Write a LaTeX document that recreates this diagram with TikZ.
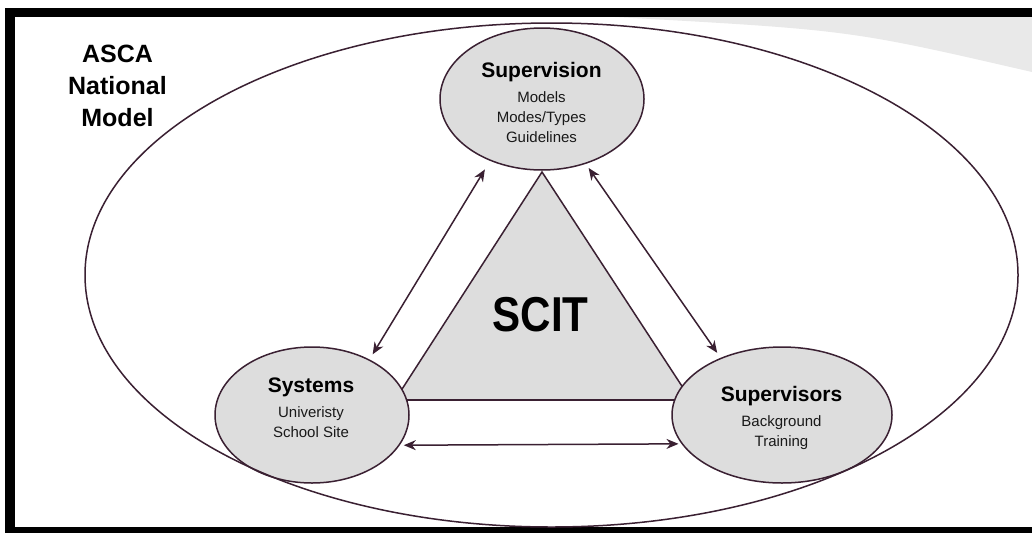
\documentclass[tikz,border=0pt]{standalone}
\usepackage{fontspec}
\setmainfont{Liberation Sans}
\newfontfamily\scitfont[FakeStretch=0.86]{Liberation Sans}
\usetikzlibrary{arrows.meta, shapes.geometric}
\definecolor{linec}{RGB}{58,32,50}
\definecolor{fillc}{RGB}{221,221,221}
\definecolor{shadec}{RGB}{233,233,233}
\begin{document}
\begin{tikzpicture}[x=1pt, y=-1pt,
        ellip/.style={ellipse, draw=linec, fill=fillc, line width=1.5pt, inner sep=0pt},
        txt/.style={align=center, text=black!90, font=\fontsize{15}{20}\selectfont},
        link/.style={{Stealth[length=12pt,width=10pt]}-{Stealth[length=12pt,width=10pt]}, draw=linec, line width=1.5pt}]
        \useasboundingbox (0,0) rectangle (1032,533);
        \fill[white] (0,0) rectangle (1032,533);
        \fill[black] (5,8) rectangle (1032,533);
        \fill[white] (15,17) rectangle (1032,527);
        \fill[shadec] (615,17) .. controls (850,30) .. (1032,72) -- (1032,17) -- cycle;
        \draw[linec, fill=fillc, line width=1.5pt] (542,172) -- (395,400) -- (691,400) -- cycle;
        \draw[linec, line width=2.2pt] (400,400) -- (686,400);
        \node[ellip, minimum width=204pt, minimum height=142pt] (supn) at (542,99) {};
        \node[ellip, minimum width=194pt, minimum height=136pt] (sys) at (312,415) {};
        \node[ellip, minimum width=220pt, minimum height=136pt] (sups) at (782,415) {};
        \draw[linec, line width=1.5pt] (551.5,275) ellipse [x radius=466.5, y radius=252];
        \draw[link, shorten <=10pt, shorten >=6pt] (supn.230) -- (sys.44);
        \draw[link, shorten <=5pt, shorten >=6pt] (supn.304) -- (sups.137.3);
        \draw[link, shorten <=4pt, shorten >=3pt] (sys.341) -- (sups.196.9);
        \node[align=center, font=\fontsize{25}{32}\selectfont\bfseries] (asca) at (117.5,86) {ASCA\\ National\\ Model};
        \node (scit) at (540.5,314.5) {\scitfont\fontsize{49}{50}\selectfont\bfseries SCIT};
        \node[txt] (supntext) at (541.5,102.6) {{\fontsize{21}{25}\selectfont\bfseries\color{black} Supervision}\\[5pt] Models\\ Modes/Types\\ Guidelines};
        \node[txt] (systext) at (311,408) {{\fontsize{21}{25}\selectfont\bfseries\color{black} Systems}\\[5pt] Univeristy\\ School Site};
        \node[txt] (supstext) at (781.5,417.9) {{\fontsize{21}{25}\selectfont\bfseries\color{black} Supervisors}\\[5pt] Background\\ Training};
\end{tikzpicture}
\end{document}
